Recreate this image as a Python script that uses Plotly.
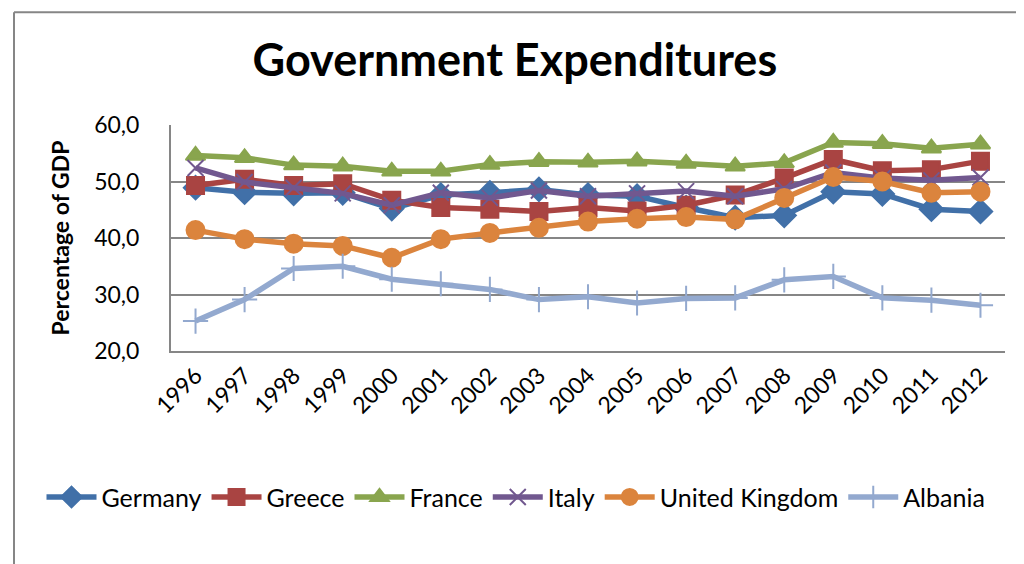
import plotly.graph_objects as go

years = [str(y) for y in range(1996, 2013)]

germany = [48.9, 48.1, 47.9, 48.0, 45.2, 47.6, 48.0, 48.6, 47.6, 47.4, 45.4, 43.6, 44.0, 48.2, 47.8, 45.1, 44.7]
greece = [49.3, 50.4, 49.3, 49.6, 46.7, 45.4, 45.1, 44.7, 45.4, 44.8, 45.8, 47.6, 50.6, 53.9, 51.9, 52.1, 53.6]
france = [54.6, 54.2, 52.9, 52.7, 51.8, 51.8, 53.0, 53.5, 53.4, 53.6, 53.2, 52.7, 53.3, 56.9, 56.7, 55.9, 56.6]
italy = [52.4, 49.9, 48.9, 47.9, 45.8, 48.0, 47.1, 48.4, 47.4, 47.9, 48.3, 47.4, 48.7, 51.6, 50.6, 50.2, 50.7]
uk = [41.4, 39.8, 39.0, 38.6, 36.5, 39.8, 40.9, 41.8, 42.9, 43.4, 43.7, 43.3, 47.1, 50.8, 50.0, 48.0, 48.2]
albania = [25.3, 29.1, 34.6, 35.0, 32.7, 31.9, 30.9, 29.1, 29.6, 28.5, 29.3, 29.4, 32.6, 33.2, 29.4, 29.0, 28.1]

yticks = [20, 30, 40, 50, 60]

series = [
    ("Germany", germany, "#4170A8", "diamond", 18),
    ("Greece", greece, "#A94442", "square", 17),
    ("France", france, "#89A54E", "triangle-up", 17),
    ("Italy", italy, "#71588F", "x-thin", 16),
    ("United Kingdom", uk, "#DB843D", "circle", 18),
    ("Albania", albania, "#93A9CF", "cross-thin", 18),
]

fig = go.Figure()
for name, vals, color, sym, size in series:
    fig.add_trace(go.Scatter(
        x=years, y=vals, name=name, mode="lines+markers",
        line=dict(color=color, width=5.5),
        marker=dict(symbol=sym, size=size, color=color,
                    line=dict(color=color, width=2)),
    ))

font_family = "Lato, Open Sans, sans-serif"

# paper spans x 10..1014 (width 1004); plot area x 163..997 via domain
PL, PW = 10, 1004
PT, PH = 117, 226.5


def px_x(x):
    return (x - PL) / PW


def px_y(y):
    return 1 - (y - PT) / PH


fig.update_layout(
    width=1024, height=564,
    margin=dict(l=PL, r=1024 - PL - PW, t=117, b=221, autoexpand=False),
    paper_bgcolor="white", plot_bgcolor="white",
    separators=",.",
    font=dict(family=font_family, size=23, color="black"),
    title=dict(text="<b>Government Expenditures</b>", x=0.495, xanchor="center",
               y=0.908, yanchor="middle", font=dict(size=45, family=font_family, color="black")),
    showlegend=True,
    legend=dict(orientation="h", x=px_x(508), xanchor="center", y=px_y(467), yanchor="top",
                font=dict(size=25, family=font_family), itemwidth=50,
                tracegroupgap=0, bgcolor="rgba(0,0,0,0)"),
    xaxis=dict(type="category", range=[-0.5, 16.5], tickangle=-45,
               domain=[px_x(163), px_x(997)],
               showgrid=False, showline=True, linecolor="#868686", linewidth=2,
               ticks="", tickfont=dict(size=23), fixedrange=True),
    yaxis=dict(range=[20, 60], tickvals=yticks, tickformat=".1f",
               showgrid=True, gridcolor="#868686", gridwidth=1.5,
               showline=True, linecolor="#868686", linewidth=2,
               ticks="", ticklabelstandoff=25, tickfont=dict(size=23),
               title=dict(text="<b>Percentage of GDP</b>", font=dict(size=23), standoff=18),
               zeroline=False),
    shapes=[
        dict(type="line", xref="paper", yref="paper", x0=px_x(6), x1=px_x(1030),
             y0=px_y(4), y1=px_y(4), line=dict(color="#868686", width=2)),
        dict(type="line", xref="paper", yref="paper", x0=px_x(6), x1=px_x(6),
             y0=px_y(4), y1=px_y(570), line=dict(color="#868686", width=2)),
    ],
)

fig.write_html("out.html")
